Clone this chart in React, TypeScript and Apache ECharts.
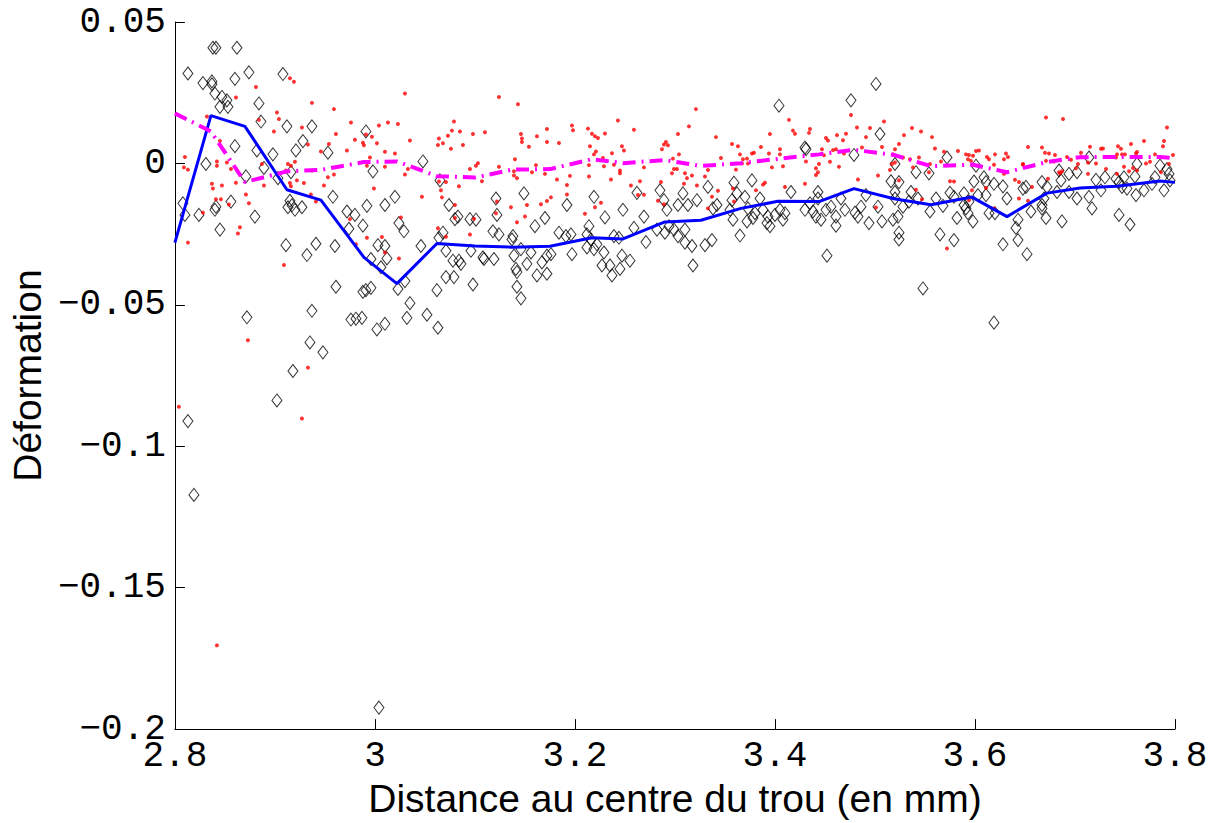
import React, { useEffect, useRef } from "react";
import * as echarts from "echarts";

const xTicks = [2.8, 3.0, 3.2, 3.4, 3.6, 3.8];
const yTicks = [-0.2, -0.15, -0.1, -0.05, 0, 0.05];

const lineX = [2.8, 2.836, 2.870, 2.912, 2.946, 2.989, 3.022, 3.062, 3.100, 3.137, 3.175, 3.217, 3.248, 3.290, 3.326, 3.366, 3.403, 3.444, 3.479, 3.519, 3.556, 3.597, 3.632, 3.672, 3.705, 3.742, 3.785, 3.8];
const blueY = [-0.028, 0.0169, 0.0131, -0.0093, -0.013, -0.0332, -0.0425, -0.0283, -0.0292, -0.0296, -0.0293, -0.0263, -0.0267, -0.0207, -0.0201, -0.0159, -0.0134, -0.0135, -0.0089, -0.0125, -0.0146, -0.0119, -0.0188, -0.0105, -0.0087, -0.0081, -0.0062, -0.0067];
const magentaY = [0.0177, 0.0113, -0.0066, -0.0028, -0.0023, 0.0005, 0.0007, -0.0045, -0.005, -0.0022, -0.002, 0.0015, 0.0001, 0.0012, -0.0009, 0.0001, 0.0016, 0.0032, 0.0048, 0.003, -0.001, -0.0004, -0.0031, 0.0005, 0.0022, 0.0023, 0.0023, 0.0018];

const diamonds: [number, number][] = [
  [2.838, 0.0409], [2.841, 0.0409], [2.862, 0.0409], [2.813, 0.0318], [2.874, 0.0322], [2.908, 0.0316], [2.860, 0.0299], [2.828, 0.0284], [2.837, 0.029], [2.837, 0.028],
  [2.840, 0.0247], [2.847, 0.0235], [2.852, 0.0223], [2.845, 0.020], [2.853, 0.020], [2.884, 0.0212], [2.886, 0.0148], [2.912, 0.0131], [2.937, 0.0131], [2.991, 0.0113],
  [2.928, 0.0079], [2.921, 0.0046], [2.860, 0.0061], [2.882, 0.0046], [2.898, 0.0032], [2.953, 0.0038], [2.831, -0.0002], [2.889, -0.0016], [2.998, -0.0028], [3.048, 0.0007],
  [2.871, -0.0046], [2.903, -0.0052], [2.916, -0.0031], [2.808, -0.0141], [2.810, -0.0182], [2.824, -0.0182], [2.841, -0.0153], [2.840, -0.0164], [2.856, -0.0135], [2.880, -0.0188],
  [2.845, -0.0234], [2.915, -0.0132], [2.913, -0.0155], [2.917, -0.0148], [2.920, -0.0164], [2.927, -0.0155], [2.958, -0.0118], [2.972, -0.0170], [2.980, -0.0182], [2.992, -0.0150],
  [3.010, -0.0147], [3.020, -0.0118], [2.974, -0.0231], [2.988, -0.0220], [3.024, -0.0211], [3.029, -0.0240], [3.003, -0.0289], [3.010, -0.0292], [3.012, -0.0336], [3.006, -0.0367],
  [2.996, -0.0338], [2.960, -0.0292], [2.941, -0.0284], [2.932, -0.0324], [2.911, -0.0289], [2.961, -0.0436], [2.988, -0.0454], [2.991, -0.0448], [2.996, -0.0440], [3.023, -0.0444],
  [3.030, -0.0416], [3.035, -0.0494], [3.032, -0.0546], [2.937, -0.0521], [2.872, -0.0544], [2.976, -0.0552], [2.981, -0.0549], [2.987, -0.0546], [3.002, -0.0587], [3.010, -0.0567],
  [2.935, -0.0633], [3.046, -0.0292], [3.052, -0.0535], [3.063, -0.0581], [2.948, -0.0668], [2.918, -0.0734], [2.902, -0.0838], [2.813, -0.0911], [2.819, -0.1172], [3.004, -0.1924],
  [3.065, -0.006], [3.074, -0.0147], [3.080, -0.0197], [3.083, -0.0188], [3.095, -0.0197], [3.101, -0.0199], [3.068, -0.0245], [3.064, -0.0263], [3.071, -0.0309], [3.078, -0.0344],
  [3.084, -0.0344], [3.086, -0.0355], [3.071, -0.0402], [3.079, -0.0402], [3.062, -0.0448], [3.098, -0.0428], [3.096, -0.0309], [3.108, -0.0332], [3.109, -0.0338], [3.119, -0.0338],
  [3.121, -0.0124], [3.122, -0.0182], [3.118, -0.024], [3.124, -0.0251], [3.138, -0.0257], [3.137, -0.0269], [3.149, -0.0106], [3.160, -0.0222], [3.170, -0.0193], [3.139, -0.0326],
  [3.141, -0.0373], [3.142, -0.0384], [3.146, -0.0303], [3.156, -0.0315], [3.142, -0.0436], [3.146, -0.0477], [3.152, -0.0355], [3.162, -0.0396], [3.172, -0.039], [3.167, -0.035],
  [3.172, -0.0326], [3.176, -0.0321], [3.184, -0.0245], [3.191, -0.0257], [3.196, -0.0251], [3.192, -0.0147], [3.197, -0.0321], [3.214, -0.0222], [3.212, -0.0251], [3.216, -0.0269],
  [3.219, -0.0118], [3.230, -0.0191], [3.212, -0.0297], [3.219, -0.0303], [3.222, -0.0286], [3.229, -0.0315], [3.227, -0.0361], [3.235, -0.0361], [3.237, -0.0396], [3.245, -0.0373],
  [3.248, -0.0164], [3.239, -0.0257], [3.244, -0.0263], [3.247, -0.0326], [3.255, -0.0344], [3.262, -0.0104], [3.259, -0.0228], [3.269, -0.0188], [3.271, -0.0278], [3.285, -0.0095],
  [3.289, -0.013], [3.292, -0.0164], [3.282, -0.0234], [3.290, -0.0245], [3.294, -0.0222],
  [3.404, 0.0204], [3.476, 0.0223], [3.501, 0.0281], [3.505, 0.0104], [3.430, 0.0056], [3.431, 0.005], [3.479, 0.003], [3.520, -0.0002], [3.541, -0.0031], [3.359, -0.0068],
  [3.377, -0.006], [3.333, -0.0083], [3.308, -0.0106], [3.416, -0.0101], [3.443, -0.0101], [3.491, -0.0112], [3.516, -0.0063], [3.520, -0.0101], [3.524, -0.0066], [3.536, -0.0101],
  [3.322, -0.013], [3.313, -0.0147], [3.303, -0.0147], [3.342, -0.0147], [3.338, -0.0159], [3.357, -0.013], [3.362, -0.0106], [3.370, -0.0118], [3.385, -0.0124], [3.355, -0.0164],
  [3.358, -0.0199], [3.373, -0.0159], [3.380, -0.0176], [3.378, -0.0193], [3.372, -0.0205], [3.388, -0.0164], [3.393, -0.0188], [3.395, -0.0222], [3.392, -0.0211], [3.400, -0.0182],
  [3.405, -0.0164], [3.408, -0.0199], [3.410, -0.0176], [3.430, -0.0164], [3.435, -0.0141], [3.438, -0.017], [3.443, -0.0124], [3.441, -0.0188], [3.446, -0.0199], [3.451, -0.0164],
  [3.456, -0.0153], [3.461, -0.0188], [3.466, -0.0124], [3.470, -0.0164], [3.461, -0.022], [3.480, -0.0174], [3.483, -0.0188], [3.486, -0.0153], [3.494, -0.0211], [3.503, -0.0153],
  [3.507, -0.0205], [3.518, -0.0199], [3.523, -0.0188], [3.528, -0.0153], [3.520, -0.0124], [3.534, -0.0135], [3.543, -0.0124], [3.299, -0.0234], [3.303, -0.0257], [3.310, -0.028],
  [3.317, -0.0292], [3.310, -0.0234], [3.330, -0.0289], [3.337, -0.0271], [3.318, -0.0361], [3.365, -0.0255], [3.452, -0.0326], [3.524, -0.0245], [3.524, -0.0269], [3.548, -0.0442],
  [3.572, 0.0021], [3.601, -0.0008], [3.554, -0.0035], [3.599, -0.0064], [3.609, -0.0049], [3.611, -0.0066], [3.619, -0.0072], [3.628, -0.0081], [3.561, -0.0124], [3.568, -0.015],
  [3.555, -0.017], [3.575, -0.0104], [3.579, -0.0118], [3.589, -0.0106], [3.594, -0.0135], [3.603, -0.0112], [3.591, -0.0159], [3.593, -0.0176], [3.598, -0.0205], [3.589, -0.0147],
  [3.611, -0.0112], [3.614, -0.0176], [3.620, -0.0176], [3.632, -0.0124], [3.582, -0.0193], [3.565, -0.0251], [3.579, -0.0271], [3.628, -0.0286], [3.643, -0.0199], [3.641, -0.0228],
  [3.643, -0.0271], [3.652, -0.0321], [3.648, -0.0089], [3.651, -0.0083], [3.656, -0.017], [3.667, -0.0066], [3.672, -0.0083], [3.669, -0.0124], [3.667, -0.0147], [3.667, -0.0159],
  [3.671, -0.0193], [3.684, -0.0025], [3.686, -0.0060], [3.694, -0.0037], [3.687, -0.0205], [3.682, -0.0101], [3.694, -0.0101], [3.702, -0.0124], [3.714, -0.0118], [3.702, -0.0031],
  [3.714, 0.0021], [3.717, -0.0159], [3.721, -0.0058], [3.730, -0.0049], [3.726, -0.0095], [3.741, -0.0054], [3.744, -0.0066], [3.747, -0.0083], [3.744, -0.0182], [3.755, -0.0216],
  [3.752, -0.0089], [3.761, -0.0112], [3.762, -0.0002], [3.769, -0.0095], [3.777, -0.0072], [3.780, -0.0049], [3.785, -0.0008], [3.789, -0.0095], [3.794, -0.0037], [3.795, -0.006],
  [3.792, -0.002], [3.760, -0.0046], [3.749, -0.0049], [3.619, -0.0563],
];

const dots: [number, number][] = [
  [2.873, -0.0625], [2.933, -0.0722], [2.804, -0.086], [2.927, -0.0902], [2.842, -0.1704],
  [2.915, 0.0301], [2.919, 0.0289], [2.881, 0.0270], [2.861, 0.0233], [2.937, 0.0214], [2.959, 0.0192], [3.030, 0.0247], [2.902, 0.018], [2.904, 0.0157], [2.884, 0.0154],
  [2.832, 0.0166], [2.899, 0.0113], [2.927, 0.0127], [2.961, 0.0104], [2.976, 0.0145], [3.004, 0.0134], [3.013, 0.0145], [3.023, 0.0139], [2.980, 0.0084], [2.988, 0.0073],
  [2.989, 0.0064], [2.991, 0.0102], [2.997, 0.0094], [3.002, 0.0071], [3.035, 0.0081], [2.933, 0.0067], [2.954, 0.0069], [2.946, 0.0042], [2.972, 0.0046], [3.020, 0.0035],
  [3.010, 0.0041], [2.995, 0.0021], [2.992, -0.0008], [3.010, -0.0012], [2.810, 0.0023], [2.809, -0.0014], [2.813, -0.0022], [2.842, 0.0007], [2.842, -0.0008], [2.852, 0.0003],
  [2.856, -0.002], [2.845, 0.0079], [2.887, -0.0002], [2.913, -0.0002], [2.916, -0.0008], [2.920, 0.0006], [2.911, -0.0025], [2.937, -0.0025], [2.953, -0.0049], [2.959, -0.0039],
  [3.030, -0.0039], [3.033, -0.002], [2.837, -0.0072], [2.838, -0.0089], [2.847, -0.0078], [2.861, -0.0068], [2.889, -0.0078], [2.915, -0.0069], [2.916, -0.0081], [2.922, -0.006],
  [2.929, -0.0069], [2.949, -0.0078], [2.999, -0.0089], [2.871, -0.011], [2.874, -0.0141], [2.841, -0.0127], [2.846, -0.0127], [2.854, -0.0145], [2.936, -0.011], [2.941, -0.0135],
  [3.047, -0.0118], [2.828, -0.0174], [2.975, -0.0197], [3.026, -0.0191], [2.865, -0.0226], [2.863, -0.0248], [2.813, -0.028], [2.981, -0.0286], [2.992, -0.0263], [3.007, -0.026],
  [3.010, -0.0315], [3.024, -0.0336], [2.909, -0.0359],
  [3.124, 0.0235], [3.143, 0.0209], [3.079, 0.0148], [3.064, 0.0088], [3.063, 0.0065], [3.068, 0.0071], [3.073, 0.0098], [3.077, 0.0116], [3.085, 0.0113], [3.088, 0.0065],
  [3.076, 0.0052], [3.098, 0.0104], [3.110, 0.011], [3.101, -0.0008], [3.103, 0.0001], [3.095, -0.002], [3.107, -0.0063], [3.071, -0.0066], [3.064, -0.0064], [3.066, -0.0095],
  [3.067, -0.012], [3.084, -0.0081], [3.080, -0.0147], [3.080, -0.0193], [3.099, -0.0196], [3.095, -0.0251], [3.063, -0.0229], [3.071, -0.0259], [3.124, -0.0012], [3.122, -0.0135],
  [3.121, -0.0176], [3.136, -0.0155], [3.139, -0.0028], [3.139, -0.0043], [3.142, -0.0052], [3.140, 0.0015], [3.146, 0.0104], [3.147, 0.0088], [3.147, 0.0076], [3.154, 0.0059],
  [3.162, 0.0096], [3.172, 0.0122], [3.172, 0.0076], [3.184, 0.0072], [3.161, -0.0006], [3.157, -0.0031], [3.170, -0.0037], [3.152, -0.0147], [3.150, -0.0188], [3.142, -0.0208],
  [3.166, -0.0144], [3.172, -0.0133], [3.176, -0.012], [3.182, -0.0057], [3.195, -0.0044], [3.192, -0.0076], [3.192, -0.011], [3.197, 0.0134], [3.198, 0.0117], [3.213, 0.0123],
  [3.215, 0.0061], [3.214, -0.0006], [3.214, -0.0046], [3.217, 0.0105], [3.220, 0.0096], [3.223, 0.009], [3.219, 0.0032], [3.221, 0.0042], [3.228, 0.0019], [3.229, -0.001],
  [3.230, 0.0106], [3.237, 0.0036], [3.243, 0.0152], [3.247, 0.0061], [3.249, 0.0046], [3.239, -0.0005], [3.245, -0.0025], [3.245, -0.0035], [3.236, -0.0057], [3.259, 0.0119],
  [3.265, -0.0063], [3.256, -0.0078], [3.269, -0.0014], [3.263, -0.0112], [3.269, -0.0111], [3.226, -0.0139], [3.220, -0.0155], [3.210, -0.0178], [3.287, 0.005], [3.289, 0.0067],
  [3.291, 0.0076], [3.293, 0.0064], [3.286, -0.0066], [3.283, -0.0132], [3.289, -0.0144], [3.297, -0.0035], [3.298, 0.0017],
  [3.321, 0.0192], [3.314, 0.0131], [3.303, 0.0104], [3.341, 0.0093], [3.357, 0.0069], [3.363, 0.0061], [3.304, 0.0032], [3.299, -0.002], [3.302, -0.002], [3.310, -0.0035],
  [3.312, -0.0052], [3.317, -0.0043], [3.309, -0.0072], [3.322, -0.0078], [3.330, -0.0046], [3.333, -0.0023], [3.346, 0.0019], [3.365, 0.0032], [3.368, 0.0015], [3.372, 0.0017],
  [3.377, 0.0035], [3.379, 0.0038], [3.373, 0.0], [3.367, 0.0], [3.361, -0.0022], [3.386, 0.0058], [3.385, 0.0009], [3.394, 0.0035], [3.395, 0.0104], [3.397, -0.0014],
  [3.405, 0.005], [3.405, 0.0032], [3.408, -0.001], [3.414, 0.0154], [3.418, 0.0116], [3.420, 0.0105], [3.435, 0.0122], [3.434, 0.0108], [3.431, 0.0007], [3.447, 0.005],
  [3.449, 0.0029], [3.451, 0.009], [3.453, 0.0081], [3.444, -0.0002], [3.441, -0.0017], [3.443, -0.0031], [3.441, -0.0041], [3.455, 0.0006], [3.462, 0.01], [3.458, 0.0047],
  [3.461, 0.005], [3.464, -0.0012], [3.468, 0.0082], [3.471, 0.0105], [3.476, 0.0171], [3.469, 0.0035], [3.482, 0.0127], [3.487, 0.0056], [3.495, 0.0125], [3.491, 0.0093],
  [3.509, 0.0148], [3.507, 0.0058], [3.483, -0.0057], [3.503, -0.0043], [3.430, -0.0072], [3.410, -0.0083], [3.390, -0.0068], [3.388, -0.0075], [3.381, -0.0095], [3.358, -0.0089],
  [3.359, -0.0135], [3.343, -0.0097], [3.337, -0.0118], [3.333, -0.0159], [3.501, -0.0156], [3.529, 0.01], [3.537, 0.0125], [3.546, 0.0113], [3.524, 0.0069], [3.520, 0.005],
  [3.518, 0.0032], [3.520, 0.0003], [3.517, -0.0002], [3.515, -0.0023], [3.528, 0.0021], [3.535, 0.0015], [3.538, -0.0014], [3.544, 0.0021], [3.524, -0.006], [3.541, -0.0093],
  [3.547, -0.0127],
  [3.671, 0.0162], [3.688, 0.0157], [3.792, 0.0127], [3.557, 0.0093], [3.560, 0.0053], [3.583, 0.0044], [3.569, 0.0041], [3.591, 0.0032], [3.594, 0.003], [3.598, 0.0027],
  [3.601, 0.0044], [3.604, 0.0046], [3.593, 0.0015], [3.596, 0.0009], [3.612, 0.0023], [3.614, 0.0015], [3.620, 0.0032], [3.631, 0.0035], [3.633, 0.0023], [3.629, 0.0015],
  [3.619, -0.0005], [3.629, -0.0037], [3.566, 0.0007], [3.555, -0.0002], [3.554, -0.0031], [3.648, -0.0002], [3.653, 0.0058], [3.667, 0.0056], [3.670, 0.0038], [3.674, 0.0035],
  [3.680, 0.003], [3.671, 0.0009], [3.679, 0.0007], [3.692, 0.0023], [3.685, -0.0035], [3.687, -0.0028], [3.696, 0.0013], [3.701, -0.0017], [3.703, -0.0002], [3.713, 0.0003],
  [3.706, 0.0038], [3.715, 0.0059], [3.706, 0.0023], [3.713, -0.0037], [3.721, 0.0], [3.726, 0.0052], [3.728, 0.0053], [3.731, -0.002], [3.743, 0.0061], [3.746, 0.0052],
  [3.742, 0.0032], [3.741, 0.0021], [3.747, 0.0032], [3.750, 0.0032], [3.756, 0.0069], [3.749, -0.0012], [3.754, -0.0028], [3.758, -0.0016], [3.762, -0.0025], [3.742, -0.0037],
  [3.761, 0.0035], [3.762, 0.004], [3.769, 0.0079], [3.771, 0.0], [3.775, 0.0006], [3.780, 0.0032], [3.789, 0.0079], [3.788, 0.0061], [3.794, -0.0002], [3.786, -0.0031],
  [3.798, 0.003], [3.575, -0.0063], [3.579, -0.0064], [3.597, -0.0095], [3.611, -0.0087], [3.640, -0.0058], [3.644, -0.0066], [3.648, -0.0005], [3.653, -0.0132], [3.644, -0.0124],
  [3.657, -0.0083], [3.673, -0.0054], [3.684, -0.0031], [3.619, -0.0159], [3.594, -0.013], [3.572, -0.0301],
];

const xTitle = "Distance au centre du trou (en mm)";
const yTitle = "Déformation";

export default function App() {
  const ref = useRef<HTMLDivElement>(null);
  useEffect(() => {
    if (!ref.current) return;
    const chart = echarts.init(ref.current, undefined, { renderer: "svg" });
    const tickFont = { fontFamily: "'Liberation Mono', 'DejaVu Sans Mono', monospace", fontSize: 36, color: "#000" };
    const nameFont = { fontFamily: "'Liberation Sans', Arial, sans-serif", fontSize: 39, color: "#000" };
    chart.setOption({
      animation: false,
      backgroundColor: "#fff",
      grid: { left: 172, right: 40, top: 22, bottom: 81, containLabel: false },
      xAxis: {
        type: "value",
        min: xTicks[0],
        max: xTicks[xTicks.length - 1],
        interval: 0.2,
        name: xTitle,
        nameLocation: "middle",
        nameGap: 37,
        nameTextStyle: nameFont,
        axisLine: { show: true, onZero: false, lineStyle: { color: "#000", width: 1 } },
        axisTick: { show: true, inside: true, length: 10, lineStyle: { color: "#000", width: 1 } },
        splitLine: { show: false },
        axisLabel: {
          ...tickFont,
          margin: 9,
          formatter: (v: number) => String(Math.round(v * 10) / 10),
        },
      },
      yAxis: {
        type: "value",
        min: yTicks[0],
        max: yTicks[yTicks.length - 1],
        interval: 0.05,
        name: yTitle,
        nameLocation: "middle",
        nameGap: 120,
        nameRotate: 90,
        nameTextStyle: nameFont,
        axisLine: { show: true, onZero: false, lineStyle: { color: "#000", width: 1 } },
        axisTick: { show: true, inside: true, length: 10, lineStyle: { color: "#000", width: 1 } },
        splitLine: { show: false },
        axisLabel: {
          ...tickFont,
          margin: 9,
          formatter: (v: number) => {
            const r = Math.round(v * 100) / 100;
            if (r === 0) return "0";
            return (r < 0 ? "\u2212" : "") + String(Math.abs(r));
          },
        },
      },
      series: [
        {
          type: "scatter",
          data: diamonds,
          symbol: "diamond",
          symbolSize: [10, 13],
          itemStyle: { color: "rgba(0,0,0,0)", borderColor: "#000", borderWidth: 1 },
          z: 2,
        },
        {
          type: "scatter",
          data: dots,
          symbol: "circle",
          symbolSize: 4,
          itemStyle: { color: "#ff0000" },
          z: 3,
        },
        {
          type: "line",
          data: lineX.map((x, i) => [x, blueY[i]]),
          showSymbol: false,
          symbol: "none",
          lineStyle: { color: "#0000ff", width: 3 },
          z: 4,
        },
        {
          type: "line",
          data: lineX.map((x, i) => [x, magentaY[i]]),
          showSymbol: false,
          symbol: "none",
          lineStyle: { color: "#ff00ff", width: 4, type: [13, 6, 2, 6] },
          z: 5,
        },
      ],
    });
    return () => chart.dispose();
  }, []);
  return <div ref={ref} style={{ position: "absolute", left: 0, top: 0, width: 1215, height: 823 }} />;
}
